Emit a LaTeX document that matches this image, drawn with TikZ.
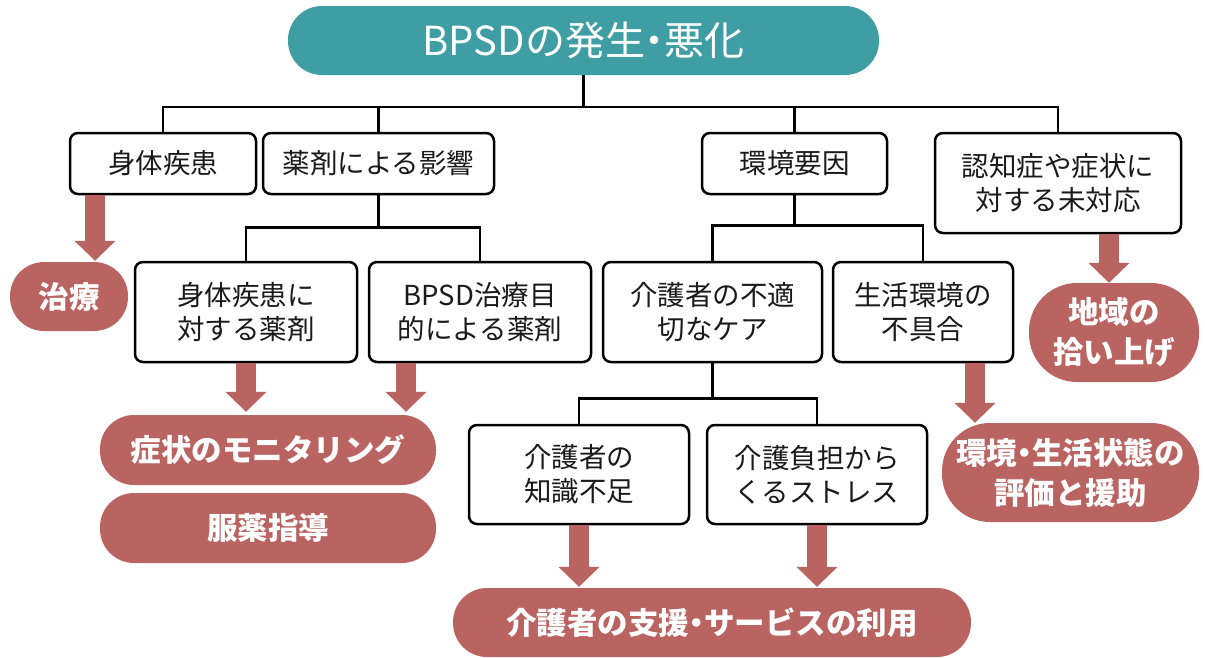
\documentclass[tikz,border=0pt]{standalone}
\usepackage{fontspec}
\setmainfont{Noto Sans CJK JP}
\usetikzlibrary{arrows.meta,calc}
\definecolor{teal1}{HTML}{3F9EA4}
\definecolor{red1}{HTML}{BA6462}
\definecolor{ink}{HTML}{1A1A1A}
\newcommand{\ndot}{\kern-0.26em・\kern-0.26em}
\begin{document}
\begin{tikzpicture}[x=1pt,y=1pt,
  box/.style={draw=black, line width=2.5pt, rounded corners=8pt, fill=white, text=ink,
    font=\fontsize{27.5}{34}\selectfont, align=center, inner sep=0pt},
  pill/.style={fill=red1, text=white, font=\bfseries\fontsize{30.5}{40}\selectfont,
    align=center, inner sep=0pt},
  tree/.style={draw=black, line width=2.5pt},
  bigarrow/.style={draw=red1, line width=19.5pt, -{Triangle[width=40pt,length=20pt]}}
]
\useasboundingbox (0,0) rectangle (1205,-657);
% title
\node[fill=teal1, text=white, rounded corners=34pt, minimum width=591pt, minimum height=69pt,
  inner sep=0pt, font=\fontsize{40}{44}\selectfont] (title) at (583.5,-40.5) {BPSDの発生\ndot 悪化};
% level 1
\node[box, minimum width=186pt, minimum height=61pt] (b1) at (163,-163.5) {身体疾患};
\node[box, minimum width=231pt, minimum height=61pt] (b2) at (378.5,-163.5) {薬剤による影響};
\node[box, minimum width=185pt, minimum height=61pt] (b3) at (794.5,-163.5) {環境要因};
\node[box, minimum width=246pt, minimum height=100pt] (b4) at (1058,-183) {認知症や症状に\\対する未対応};
% level 2
\node[box, minimum width=222pt, minimum height=100pt] (c1) at (246,-312) {身体疾患に\\対する薬剤};
\node[box, minimum width=222pt, minimum height=100pt] (c2) at (480,-312) {BPSD治療目\\的による薬剤};
\node[box, minimum width=219pt, minimum height=100pt] (c3) at (712.5,-312) {介護者の不適\\切なケア};
\node[box, minimum width=180pt, minimum height=100pt] (c4) at (923,-312) {生活環境の\\不具合};
% level 3
\node[box, minimum width=220pt, minimum height=99pt] (d1) at (579,-474.5) {介護者の\\知識不足};
\node[box, minimum width=220pt, minimum height=99pt] (d2) at (817,-474.5) {介護負担から\\くるストレス};
% red pills
\node[pill, rounded corners=34pt, minimum width=118pt, minimum height=69pt] (r1) at (69,-296.5) {治療};
\node[pill, rounded corners=34pt, minimum width=336pt, minimum height=70pt] (r2) at (268,-450) {症状のモニタリング};
\node[pill, rounded corners=34pt, minimum width=336pt, minimum height=70pt] (r3) at (268,-528) {服薬指導};
\node[pill, rounded corners=34pt, minimum width=518pt, minimum height=69pt] (r4) at (712,-622.5) {介護者の支援\ndot サービスの利用};
\node[pill, rounded corners=48pt, minimum width=257pt, minimum height=99pt] (r5) at (1070.5,-472.5) {環境\ndot 生活状態の\\評価と援助};
\node[pill, rounded corners=48pt, minimum width=170pt, minimum height=99pt] (r6) at (1114,-332.5) {地域の\\拾い上げ};
% tree connectors
\draw[tree] (title.south) -- ++(0,-32) coordinate (j0);
\draw[tree] (b1.north) |- (b4.north |- j0) -- (b4.north);
\draw[tree] (b2.north) -- (b2.north |- j0);
\draw[tree] (b3.north) -- (b3.north |- j0);
\draw[tree] (b2.south) -- ++(0,-32) coordinate (j1);
\draw[tree] (c1.north) |- (c2.north |- j1) -- (c2.north);
\draw[tree] (b3.south) -- ++(0,-30) coordinate (j2);
\draw[tree] (c3.north) |- (c4.north |- j2) -- (c4.north);
\draw[tree] (c3.south) -- ++(0,-35) coordinate (j3);
\draw[tree] (d1.north) |- (d2.north |- j3) -- (d2.north);
% block arrows
\draw[bigarrow] ($(b1.south)+(-68,0)$) -- ($(r1.north)+(26,1)$);
\draw[bigarrow] (c1.south) -- ($(c1.south |- r2.north)+(0,3)$);
\draw[bigarrow] ($(c2.south)+(-74,0)$) -- ($(c2.south |- r2.north)+(-74,3)$);
\draw[bigarrow] (d1.south) -- ($(d1.south |- r4.north)+(0,1)$);
\draw[bigarrow] (d2.south) -- ($(d2.south |- r4.north)+(0,1)$);
\draw[bigarrow] ($(c4.south)+(52,0)$) -- ($(c4.south |- r5.north)+(52,0)$);
\draw[bigarrow] ($(b4.south)+(51,0)$) -- ($(b4.south |- r6.north)+(51,0)$);
\end{tikzpicture}
\end{document}
